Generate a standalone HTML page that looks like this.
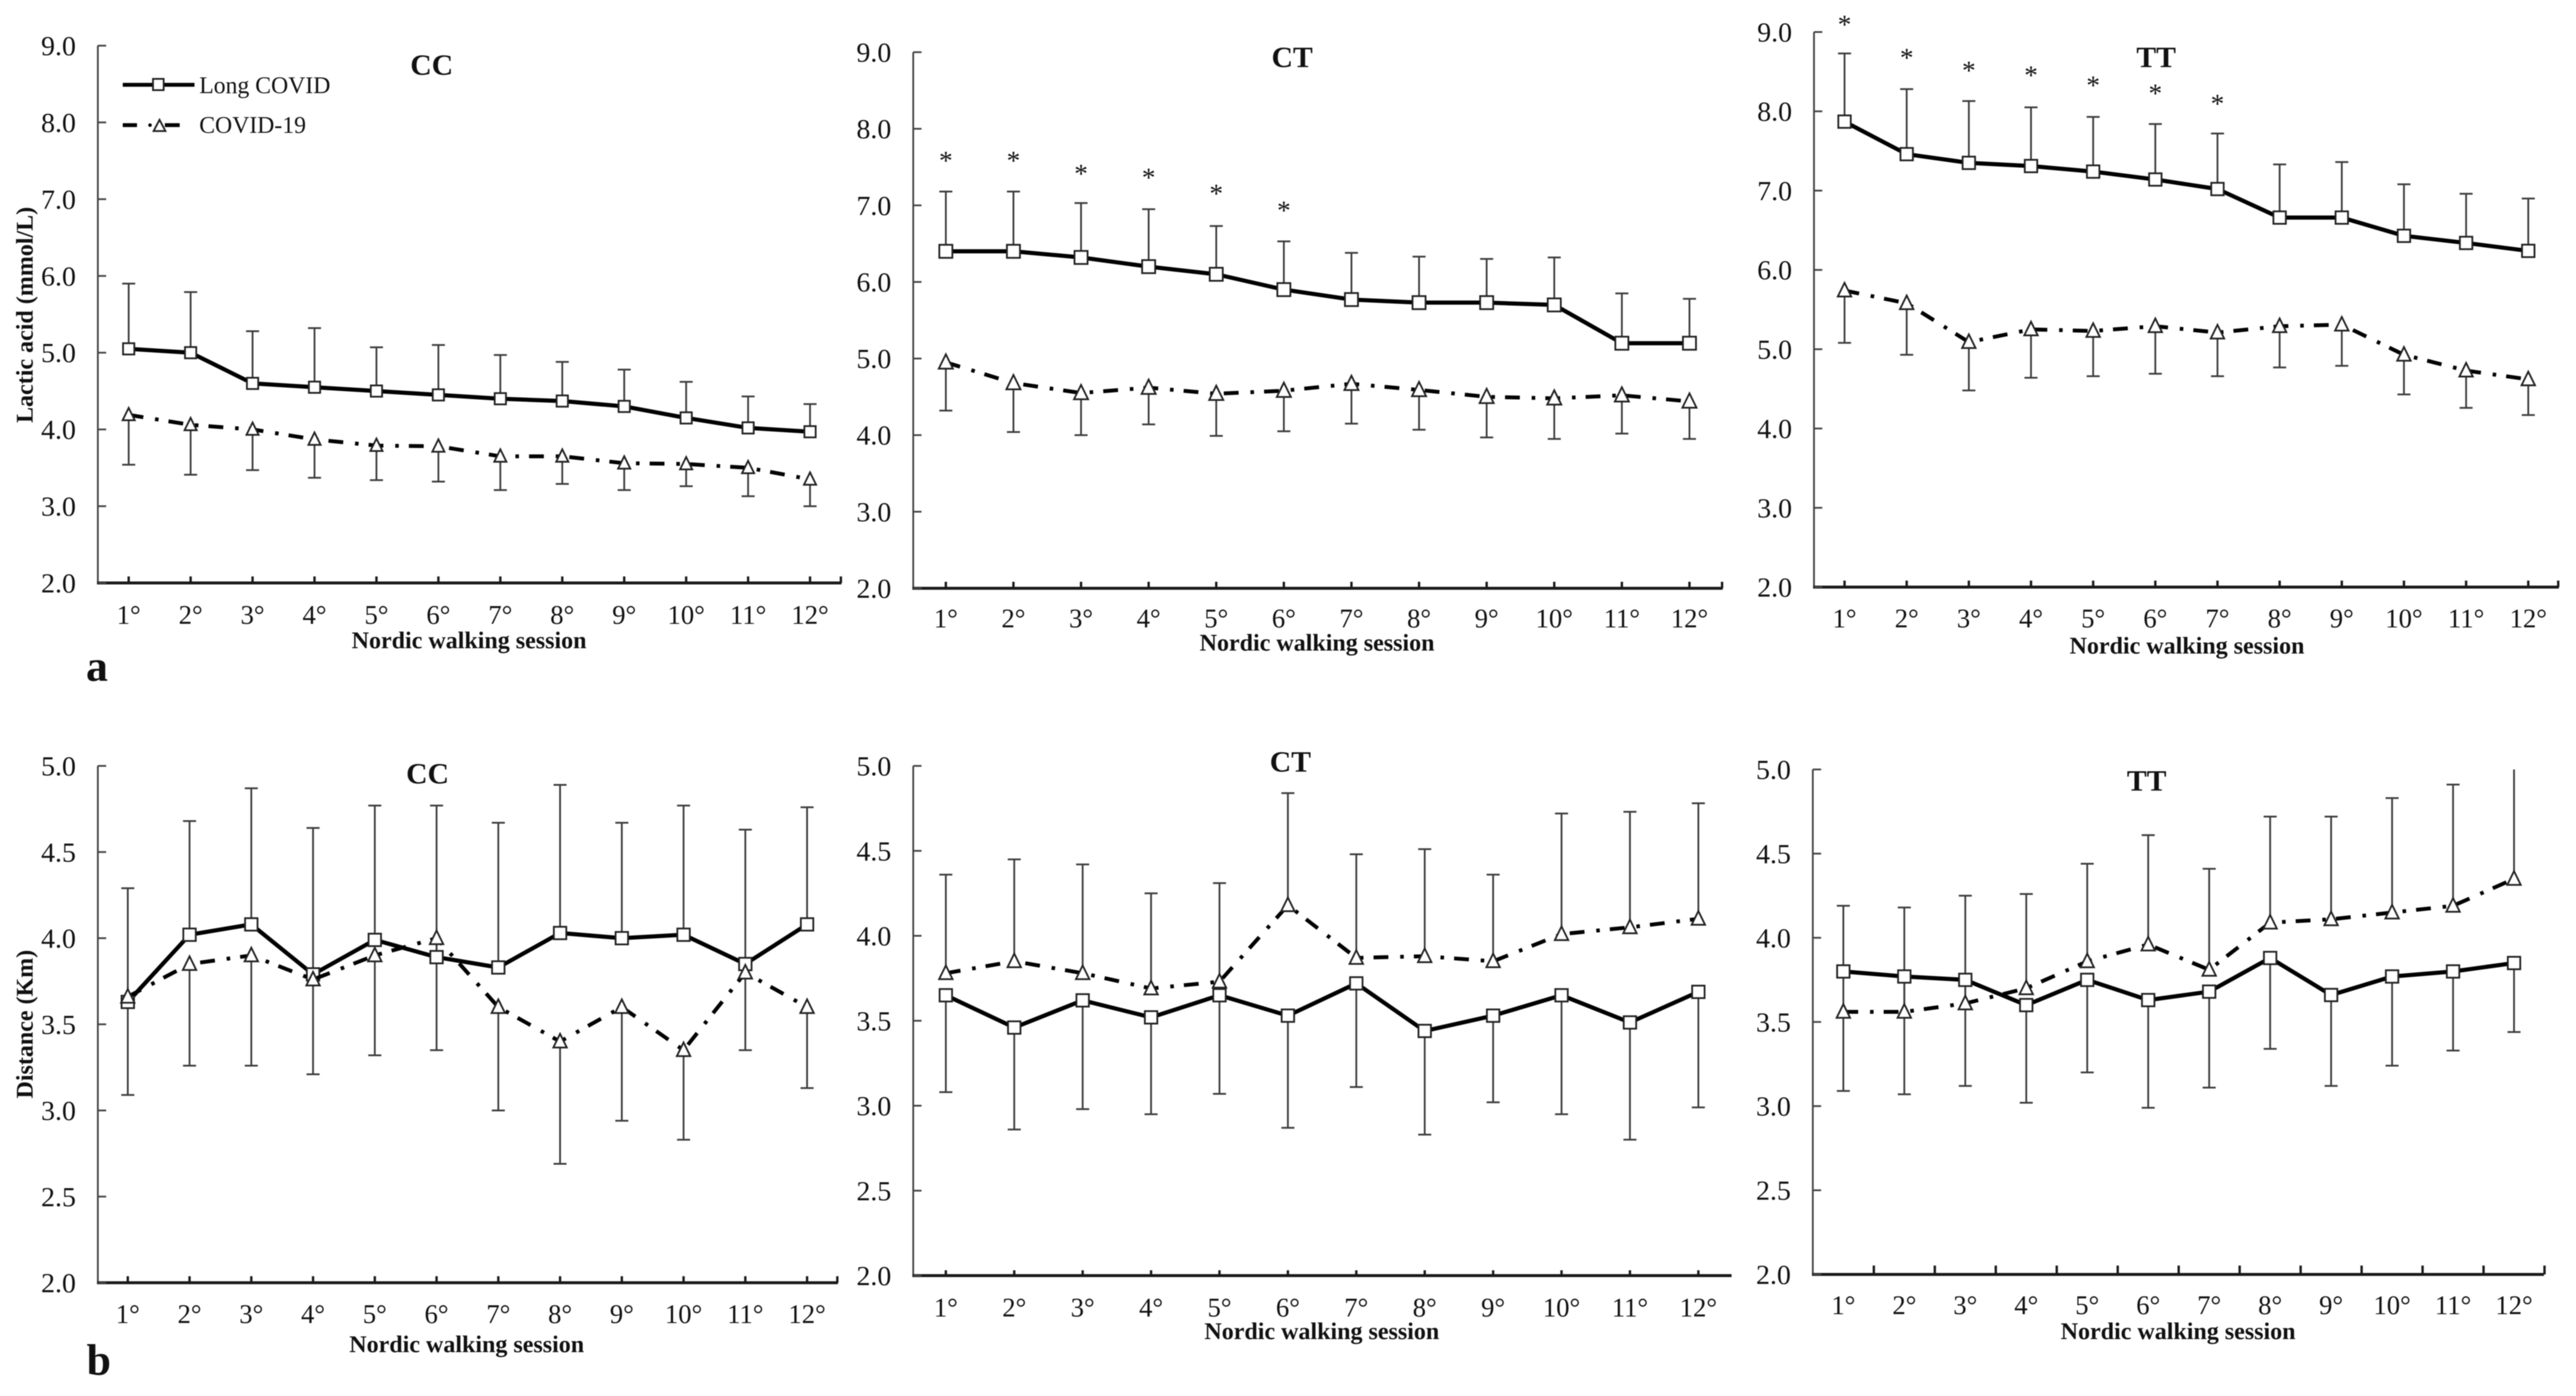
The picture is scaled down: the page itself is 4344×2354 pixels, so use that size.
<!DOCTYPE html>
<html lang="en">
<head>
<meta charset="utf-8">
<title>Lactic acid and distance by Nordic walking session</title>
<style>
html,body{margin:0;padding:0;background:#fff;}
#figure{display:block;width:4344px;height:2354px;filter:blur(0.8px);font-family:"Liberation Serif",serif;fill:#111;}
.title{font-size:50px;font-weight:bold;text-anchor:middle;}
.axis-title{font-size:40.5px;font-weight:bold;text-anchor:middle;}
.legend{font-size:40px;}
.panel-letter{font-size:74px;font-weight:bold;}
</style>
</head>
<body>
<svg id="figure" xmlns="http://www.w3.org/2000/svg" width="4344" height="2354" viewBox="0 0 4344 2354">
  <rect x="0" y="0" width="4344" height="2354" fill="#ffffff"/>

  <g id="panel-a-cc"></g>
  <g id="panel-a-ct"></g>
  <g id="panel-a-tt"></g>
  <g id="panel-b-cc"></g>
  <g id="panel-b-ct"></g>
  <g id="panel-b-tt"></g>

  <text class="title" x="728" y="126">CC</text>
  <text class="title" x="2179" y="113">CT</text>
  <text class="title" x="3636" y="113">TT</text>
  <text class="title" x="721" y="1321">CC</text>
  <text class="title" x="2176" y="1301">CT</text>
  <text class="title" x="3620" y="1333">TT</text>

  <text class="axis-title" x="791" y="1093">Nordic walking session</text>
  <text class="axis-title" x="2221" y="1097">Nordic walking session</text>
  <text class="axis-title" x="3688" y="1102">Nordic walking session</text>
  <text class="axis-title" x="787" y="2280">Nordic walking session</text>
  <text class="axis-title" x="2229" y="2258">Nordic walking session</text>
  <text class="axis-title" x="3673" y="2258">Nordic walking session</text>

  <text class="axis-title" transform="translate(55 531) rotate(-90)" x="0" y="0">Lactic acid (mmol/L)</text>
  <text class="axis-title" transform="translate(55 1727) rotate(-90)" x="0" y="0">Distance (Km)</text>

  <text class="panel-letter" x="145" y="1148">a</text>
  <text class="panel-letter" x="146" y="2318">b</text>

  <g>
    <g>
      <line x1="207" y1="143" x2="328" y2="143" stroke="#000" stroke-width="6.5"/>
      <rect x="258" y="133" width="18" height="19" fill="#fff" stroke="#222" stroke-width="3"/>
      <text class="legend" x="336" y="157">Long COVID</text>
    </g>
    <g>
      <line x1="207" y1="211" x2="231" y2="211" stroke="#000" stroke-width="6.5"/>
      <circle cx="253" cy="211" r="3" fill="#000"/>
      <line x1="278" y1="211" x2="303" y2="211" stroke="#000" stroke-width="6.5"/>
      <polygon points="269,202 259,221 279,221" fill="#fff" stroke="#222" stroke-width="3"/>
      <text class="legend" x="336" y="224">COVID-19</text>
    </g>
  </g>
</svg>

<script>
/* ---------- shared axis data ---------- */
const sessions = ['1°','2°','3°','4°','5°','6°','7°','8°','9°','10°','11°','12°'];
const lacticTicks = [2,3,4,5,6,7,8,9];
const distanceTicks = [2,2.5,3,3.5,4,4.5,5];

/* ---------- lactic acid, CC ---------- */
const lacticCCLong = [5.05,5.0,4.6,4.55,4.5,4.45,4.4,4.37,4.3,4.15,4.02,3.97];
const lacticCCLongUpper = [5.9,5.79,5.28,5.32,5.07,5.1,4.97,4.88,4.78,4.62,4.43,4.33];
const lacticCCCovid = [4.19,4.06,4.0,3.87,3.79,3.78,3.65,3.65,3.56,3.55,3.5,3.35];
const lacticCCCovidLower = [3.54,3.41,3.47,3.37,3.34,3.32,3.21,3.29,3.21,3.26,3.13,3.0];
const lacticCCStars = [];

/* ---------- lactic acid, CT ---------- */
const lacticCTLong = [6.4,6.4,6.32,6.2,6.1,5.9,5.77,5.73,5.73,5.7,5.2,5.2];
const lacticCTLongUpper = [7.18,7.18,7.03,6.95,6.73,6.53,6.38,6.33,6.3,6.32,5.85,5.78];
const lacticCTCovid = [4.95,4.68,4.55,4.62,4.54,4.58,4.67,4.59,4.5,4.48,4.52,4.44];
const lacticCTCovidLower = [4.32,4.04,4.0,4.14,3.99,4.05,4.15,4.07,3.97,3.95,4.02,3.95];
const lacticCTStars = [7.63,7.63,7.46,7.41,7.2,6.98];

/* ---------- lactic acid, TT ---------- */
const lacticTTLong = [7.87,7.46,7.35,7.31,7.24,7.14,7.02,6.66,6.66,6.43,6.34,6.24];
const lacticTTLongUpper = [8.73,8.28,8.13,8.05,7.93,7.84,7.72,7.33,7.36,7.08,6.96,6.9];
const lacticTTCovid = [5.74,5.58,5.09,5.25,5.23,5.29,5.21,5.29,5.31,4.93,4.73,4.62];
const lacticTTCovidLower = [5.08,4.93,4.48,4.64,4.66,4.69,4.66,4.77,4.79,4.43,4.26,4.17];
const lacticTTStars = [9.14,8.72,8.56,8.5,8.37,8.27,8.14];

/* ---------- distance, CC ---------- */
const distanceCCLong = [3.63,4.02,4.08,3.79,3.99,3.89,3.83,4.03,4.0,4.02,3.85,4.08];
const distanceCCLongUpper = [4.29,4.68,4.87,4.64,4.77,4.77,4.67,4.89,4.67,4.77,4.63,4.76];
const distanceCCCovid = [3.66,3.85,3.9,3.76,3.9,4.0,3.6,3.4,3.6,3.35,3.8,3.6];
const distanceCCCovidLower = [3.09,3.26,3.26,3.21,3.32,3.35,3.0,2.69,2.94,2.83,3.35,3.13];

/* ---------- distance, CT ---------- */
const distanceCTLong = [3.65,3.46,3.62,3.52,3.65,3.53,3.72,3.44,3.53,3.65,3.49,3.67];
const distanceCTLongLower = [3.08,2.86,2.98,2.95,3.07,2.87,3.11,2.83,3.02,2.95,2.8,2.99];
const distanceCTCovid = [3.78,3.85,3.78,3.69,3.73,4.18,3.87,3.88,3.85,4.01,4.05,4.1];
const distanceCTCovidUpper = [4.36,4.45,4.42,4.25,4.31,4.84,4.48,4.51,4.36,4.72,4.73,4.78];

/* ---------- distance, TT ---------- */
const distanceTTLong = [3.8,3.77,3.75,3.6,3.75,3.63,3.68,3.88,3.66,3.77,3.8,3.85];
const distanceTTLongLower = [3.09,3.07,3.12,3.02,3.2,2.99,3.11,3.34,3.12,3.24,3.33,3.44];
const distanceTTCovid = [3.56,3.56,3.61,3.7,3.86,3.96,3.81,4.09,4.11,4.15,4.19,4.35];
const distanceTTCovidUpper = [4.19,4.18,4.25,4.26,4.44,4.61,4.41,4.72,4.72,4.83,4.91,5.0];

const NS = 'http://www.w3.org/2000/svg';

function make(parent, tag, attrs) {
  const el = document.createElementNS(NS, tag);
  for (const k in attrs) el.setAttribute(k, attrs[k]);
  parent.appendChild(el);
  return el;
}

function xScale(p, i) {
  return p.x1 + (p.x12 - p.x1) * i / (sessions.length - 1);
}

function yScale(p, v) {
  return p.yBottom + (p.yTop - p.yBottom) * (v - p.vMin) / (p.vMax - p.vMin);
}

function drawAxes(g, p) {
  const yAxis = make(g, 'line', {x1: p.axisX, y1: yScale(p, p.vMax), x2: p.axisX, y2: p.yBottom, stroke: '#444', 'stroke-width': 3});
  
  
  const xAxis = make(g, 'line', {x1: p.axisX - 1.5, y1: p.yBottom, x2: p.right, y2: p.yBottom, stroke: '#1a1a1a', 'stroke-width': 5});
  
  

  p.ticks.forEach(function (t) {
    const y = yScale(p, t);
    const tick = make(g, 'line', {x1: p.axisX, y1: y, x2: p.axisX + 14, y2: y, stroke: '#444', 'stroke-width': 3});
    
    
    const label = make(g, 'text', {x: p.axisX - 37, y: y + 16, 'text-anchor': 'end', 'font-size': 47});
    label.textContent = t.toFixed(1);
    
    
  });

  sessions.forEach(function (s, i) {
    const cx = xScale(p, i);
    const tx = p.between ? cx + (p.x12 - p.x1) / (sessions.length - 1) / 2 : cx;
    const tick = make(g, 'line', {x1: tx, y1: p.yBottom, x2: tx, y2: p.yBottom - p.tickLen, stroke: '#1a1a1a', 'stroke-width': 4});
    
    
    const label = make(g, 'text', {x: cx, y: p.labelBaseline, 'text-anchor': 'middle', 'font-size': 45});
    label.textContent = s;
    
    
  });

  if (p.endTick) {
    const end = make(g, 'line', {x1: p.right - 1, y1: p.yBottom, x2: p.right - 1, y2: p.yBottom - p.tickLen, stroke: '#1a1a1a', 'stroke-width': 4});
    
    
  }
}

function drawErrorBars(g, p, means, bounds) {
  means.forEach(function (m, i) {
    const x = xScale(p, i);
    const bar = make(g, 'line', {x1: x, y1: yScale(p, m), x2: x, y2: yScale(p, bounds[i]), stroke: '#3c3c3c', 'stroke-width': 3});
    
    
    if (bounds[i] < p.vMax) {
      const cap = make(g, 'line', {x1: x - 11, y1: yScale(p, bounds[i]), x2: x + 11, y2: yScale(p, bounds[i]), stroke: '#3c3c3c', 'stroke-width': 3});
      
      
    }
  });
}

function pointString(p, values) {
  return values.map(function (v, i) { return xScale(p, i) + ',' + yScale(p, v); }).join(' ');
}

function drawLong(g, p, values) {
  const line = make(g, 'polyline', {points: pointString(p, values), fill: 'none', stroke: '#000', 'stroke-width': 7, 'stroke-linejoin': 'round'});
  
  
  values.forEach(function (v, i) {
    const s = p.marker;
    const m = make(g, 'rect', {x: xScale(p, i) - s / 2, y: yScale(p, v) - s / 2, width: s, height: s, fill: '#fff', stroke: '#222', 'stroke-width': 3});
    
    
  });
}

function drawCovid(g, p, values) {
  const line = make(g, 'polyline', {points: pointString(p, values), fill: 'none', stroke: '#000', 'stroke-width': 6.5, 'stroke-dasharray': '25 20 6 17', 'stroke-linejoin': 'round'});
  
  
  values.forEach(function (v, i) {
    const s = p.marker;
    const x = xScale(p, i);
    const y = yScale(p, v);
    const pts = x + ',' + (y - s * 0.62) + ' ' + (x - s * 0.54) + ',' + (y + s * 0.48) + ' ' + (x + s * 0.54) + ',' + (y + s * 0.48);
    const m = make(g, 'polygon', {points: pts, fill: '#fff', stroke: '#222', 'stroke-width': 3});
    
    
  });
}

function drawStars(g, p, stars) {
  stars.forEach(function (v, i) {
    const star = make(g, 'text', {x: xScale(p, i), y: yScale(p, v) + 21, 'text-anchor': 'middle', 'font-size': 46});
    star.textContent = '*';
    
    
  });
}

function drawPanel(id, p, d) {
  const g = document.getElementById(id);
  drawAxes(g, p);
  drawErrorBars(g, p, d.long, d.longBound);
  drawErrorBars(g, p, d.covid, d.covidBound);
  drawLong(g, p, d.long);
  drawCovid(g, p, d.covid);
  drawStars(g, p, d.stars);
}

const lacticRange = {vMin: 2, vMax: 9, ticks: lacticTicks};
const distanceRange = {vMin: 2, vMax: 5, ticks: distanceTicks};

drawPanel('panel-a-cc',
  Object.assign({axisX: 165, yTop: 77, yBottom: 983, x1: 217, x12: 1366, right: 1419, tickLen: 11, endTick: true, labelBaseline: 1052, marker: 19}, lacticRange),
  {long: lacticCCLong, longBound: lacticCCLongUpper, covid: lacticCCCovid, covidBound: lacticCCCovidLower, stars: lacticCCStars});

drawPanel('panel-a-ct',
  Object.assign({axisX: 1540, yTop: 88, yBottom: 992, x1: 1595, x12: 2849, right: 2905, tickLen: 11, endTick: true, labelBaseline: 1058, marker: 22}, lacticRange),
  {long: lacticCTLong, longBound: lacticCTLongUpper, covid: lacticCTCovid, covidBound: lacticCTCovidLower, stars: lacticCTStars});

drawPanel('panel-a-tt',
  Object.assign({axisX: 3059, yTop: 54, yBottom: 990, x1: 3110.5, x12: 4263.5, right: 4315, tickLen: 11, endTick: true, labelBaseline: 1058, marker: 21}, lacticRange),
  {long: lacticTTLong, longBound: lacticTTLongUpper, covid: lacticTTCovid, covidBound: lacticTTCovidLower, stars: lacticTTStars});

drawPanel('panel-b-cc',
  Object.assign({axisX: 165, yTop: 1291.5, yBottom: 2163, x1: 215.5, x12: 1361, right: 1413, tickLen: 11, endTick: true, labelBaseline: 2231, marker: 21}, distanceRange),
  {long: distanceCCLong, longBound: distanceCCLongUpper, covid: distanceCCCovid, covidBound: distanceCCCovidLower, stars: []});

drawPanel('panel-b-ct',
  Object.assign({axisX: 1540, yTop: 1291.5, yBottom: 2151, x1: 1595, x12: 2864, right: 2920, tickLen: 9, endTick: false, labelBaseline: 2220, marker: 21}, distanceRange),
  {long: distanceCTLong, longBound: distanceCTLongLower, covid: distanceCTCovid, covidBound: distanceCTCovidUpper, stars: []});

drawPanel('panel-b-tt',
  Object.assign({axisX: 3057, yTop: 1297.5, yBottom: 2149, x1: 3108.5, x12: 4239.5, right: 4290, tickLen: 15, endTick: false, between: true, labelBaseline: 2216, marker: 21}, distanceRange),
  {long: distanceTTLong, longBound: distanceTTLongLower, covid: distanceTTCovid, covidBound: distanceTTCovidUpper, stars: []});
</script>
</body>
</html>
